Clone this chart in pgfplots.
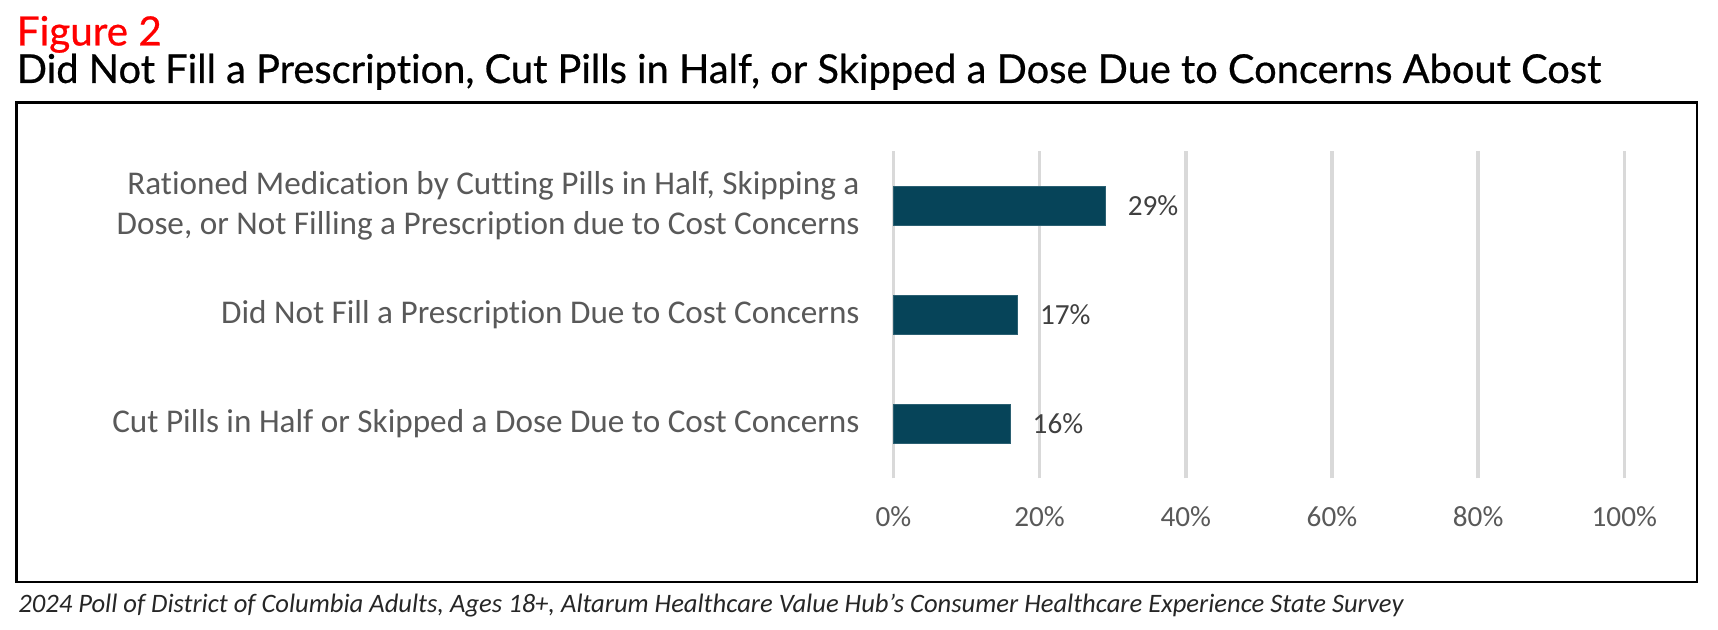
\documentclass[border=0pt]{standalone}
\usepackage{pgfplots}
\pgfplotsset{compat=1.18}
\usepackage{fontspec}
\setmainfont{Carlito}[Ligatures={TeX,NoCommon}]
\newfontfamily\titlefont{Lato}[Ligatures={TeX,NoCommon},FakeBold=0.6]
\definecolor{barc}{HTML}{064459}
\definecolor{gridc}{HTML}{D9D9D9}
\definecolor{labc}{HTML}{595959}
\definecolor{valc}{HTML}{404040}
\definecolor{footc}{HTML}{262626}
\begin{document}
\begin{tikzpicture}[x=1pt,y=1pt]
\useasboundingbox (0,0) rectangle (859,315);
\node[anchor=base west, inner sep=0pt, text=red, font=\titlefont\fontsize{20.2}{24}\selectfont] at (8.2,292.25) {Figure 2};
\node[anchor=base west, inner sep=0pt, font=\titlefont\fontsize{19.9}{24}\selectfont] at (8.2,273.5) {Did Not Fill a Prescription, Cut Pills in Half, or Skipped a Dose Due to Concerns About Cost};
\draw[line width=1.25pt] (8.35,24.1) rectangle (848.5,263.75);
\draw[line width=1.5pt] (7.7,263.75) -- (849.1,263.75);
\begin{axis}[at={(446.7pt,75.75pt)}, anchor=south west, scale only axis,
  width=365.45pt, height=163.5pt, clip=false,
  /pgf/number format/assume math mode=true,
  xbar, bar width=19.15pt, xmin=0, xmax=100, ymin=-0.5, ymax=2.5,
  xtick={0,20,...,100}, xticklabels={0\%,20\%,40\%,60\%,80\%,100\%},
  ytick={0,1,2},
  yticklabels={Cut Pills in Half or Skipped a Dose Due to Cost Concerns,
    Did Not Fill a Prescription Due to Cost Concerns,
    {Rationed Medication by Cutting Pills in Half, Skipping a\\Dose, or Not Filling a Prescription due to Cost Concerns}},
  axis line style={draw=none}, major tick length=0pt,
  xmajorgrids, grid style={gridc, line width=1.75pt},
  xticklabel style={anchor=base, inner sep=0pt, yshift=-24.25pt, font=\fontsize{14.6}{17}\selectfont, text=labc},
  yticklabel style={anchor=east, align=right, inner sep=0pt, xshift=-16.7pt, font=\fontsize{16.6}{20}\selectfont, text=labc},
  nodes near coords={\pgfmathprintnumber{\pgfplotspointmeta}\%},
  nodes near coords style={anchor=west, inner sep=0pt, xshift=11pt, font=\fontsize{14.6}{17}\selectfont, text=valc},
]
\addplot[fill=barc, draw=barc!85!white, line width=0.4pt] coordinates {(16,0) (17,1) (29,2)};
\end{axis}
\node[anchor=base west, inner sep=0pt, font=\itshape\fontsize{13.3}{16}\selectfont, text=footc] at (9,8.8) {2024 Poll of District of Columbia Adults, Ages 18+, Altarum Healthcare Value Hub's Consumer Healthcare Experience State Survey};
\end{tikzpicture}
\end{document}
